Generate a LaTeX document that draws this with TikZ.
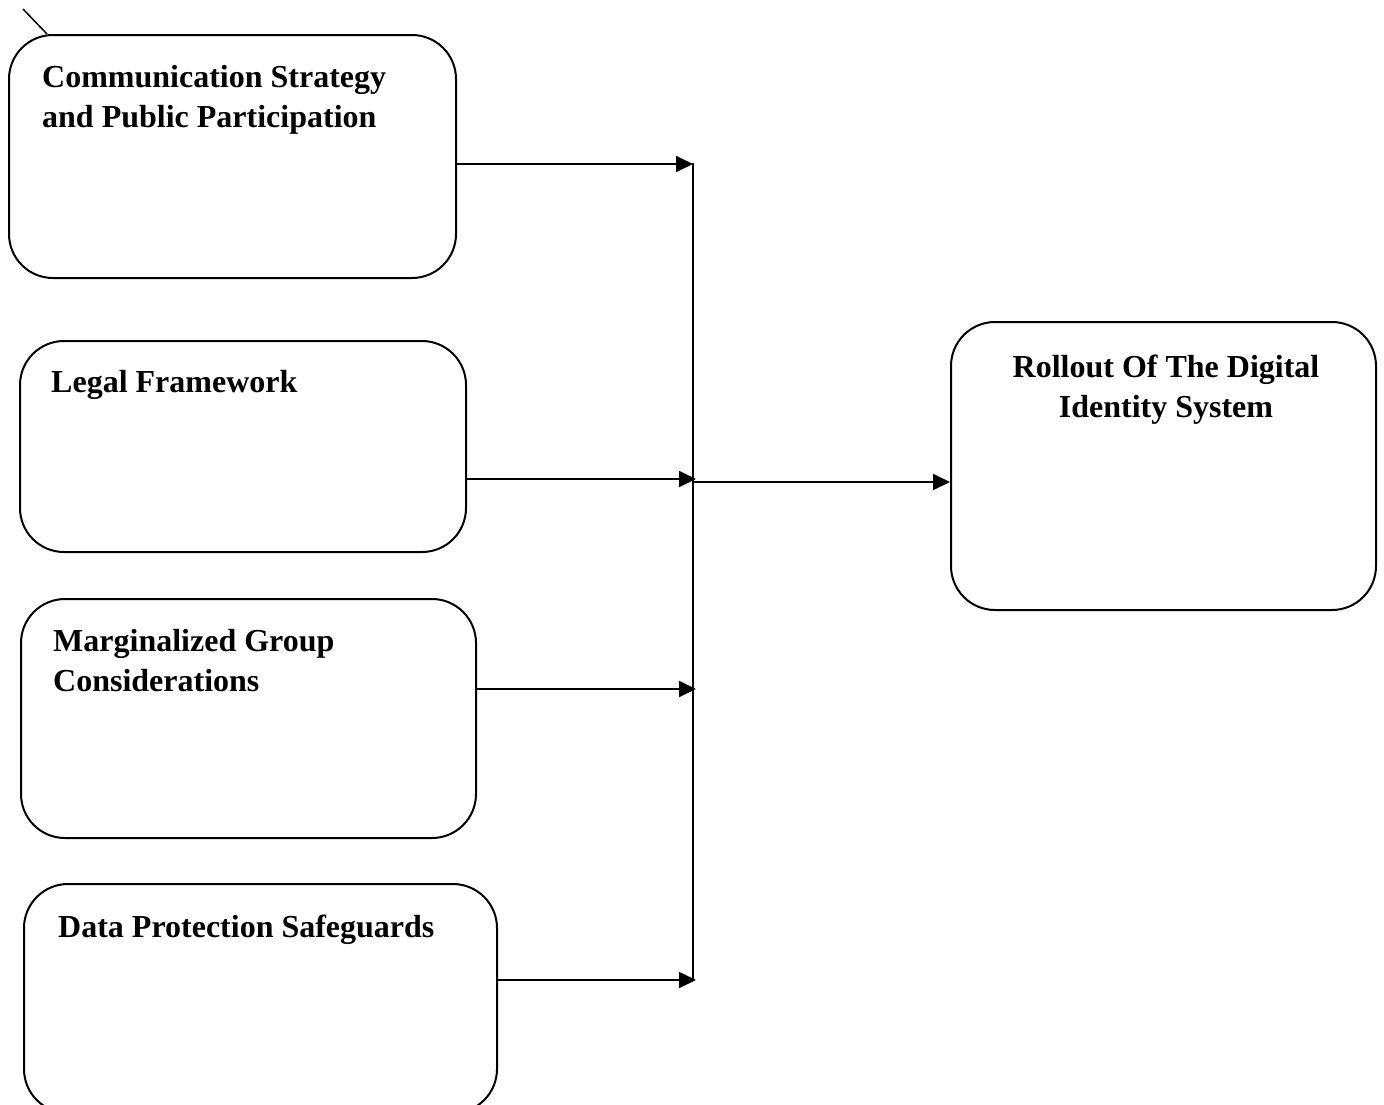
\documentclass[tikz,border=0pt]{standalone}
\usepackage{fontspec}
\setmainfont{Liberation Serif}
\usetikzlibrary{arrows.meta}
\tikzset{
  box/.style={draw, line width=2pt, rounded corners=44pt, inner sep=0pt},
  lbl/.style={inner sep=0pt, font=\fontsize{32}{40}\selectfont\bfseries},
  arr/.style={line width=1.8pt, -{Triangle[length=17pt,width=16pt]}},
  ln/.style={line width=1.8pt}
}
\begin{document}
\begin{tikzpicture}[x=1pt,y=-1pt]
\useasboundingbox (0,0) rectangle (1384,1104);
% boxes
\node[box, minimum width=447pt, minimum height=243pt] (b1) at (232.5,156.5) {};
\node[box, minimum width=446pt, minimum height=211pt] (b2) at (243,446.5) {};
\node[box, minimum width=455pt, minimum height=239pt] (b3) at (248.5,718.5) {};
\node[box, minimum width=473pt, minimum height=229pt] (b4) at (260.5,998.5) {};
\node[box, minimum width=425pt, minimum height=288pt] (r) at (1163.5,466) {};
% labels (base anchor = baseline of the last line)
\node[lbl, anchor=base west, align=left] (t1) at (42,127.5) {Communication Strategy\\and Public Participation};
\node[lbl, anchor=base west] (t2) at (51,392) {Legal Framework};
\node[lbl, anchor=base west, align=left] (t3) at (53,691) {Marginalized Group\\Considerations};
\node[lbl, anchor=base west] (t4) at (58,937) {Data Protection Safeguards};
\node[lbl, anchor=base, align=center] (tr) at (1166,417) {Rollout Of The Digital\\Identity System};
% vertical collector line
\coordinate (vtop) at (693,163);
\coordinate (vbot) at (693,981);
\draw[ln] (vtop) -- (vbot);
\coordinate (v1) at (693,164);
\coordinate (v2) at (696,479);
\coordinate (v3) at (696,689);
\coordinate (v4) at (696,980);
\coordinate (vm) at (693,482);
\draw[arr] (b1.east |- v1) -- (v1);
\draw[arr] (b2.east |- v2) -- (v2);
\draw[arr] (b3.east |- v3) -- (v3);
\draw[arr] (b4.east |- v4) -- (v4);
\draw[arr] (vm) -- (r.west |- vm);
% stray stroke at the top-left corner
\coordinate (s0) at (23,9);
\coordinate (s1) at (47,34);
\draw[line width=1.5pt] (s0) -- (s1);
\end{tikzpicture}
\end{document}
